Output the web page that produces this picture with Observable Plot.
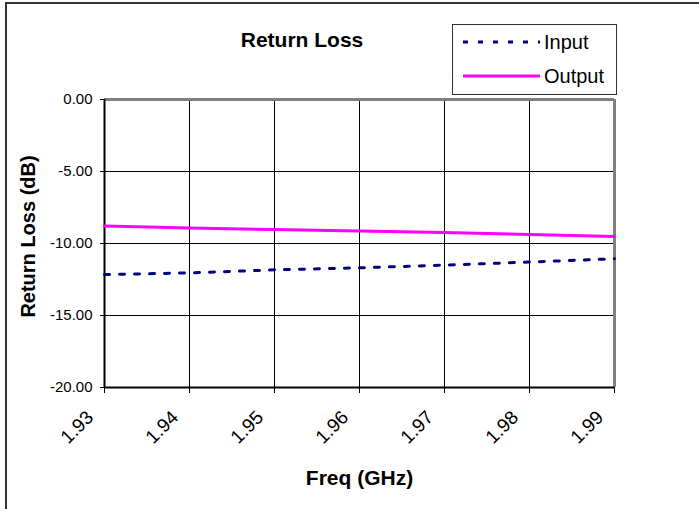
<!DOCTYPE html>
<html>
<head>
<meta charset="utf-8">
<script src="https://cdn.jsdelivr.net/npm/d3@7"></script>
<script src="https://cdn.jsdelivr.net/npm/@observablehq/plot@0.6"></script>
<style>
  html, body { margin: 0; padding: 0; background: #fff; }
  #wrap { position: relative; width: 699px; height: 509px; overflow: hidden; font-family: "Liberation Sans", Arial, sans-serif; }
  #frame { position: absolute; left: 5px; top: 2px; width: 800px; height: 600px; border-top: 2px solid #333; border-left: 2px solid #333; box-sizing: border-box; }
</style>
</head>
<body>
<div id="wrap">
  <div id="frame"></div>
  <div id="chart"></div>
</div>
<script>
const freq = [1.93, 1.94, 1.95, 1.96, 1.97, 1.98, 1.99];
const inputRL = [-12.16, -12.04, -11.83, -11.69, -11.50, -11.29, -11.06];
const outputRL = [-8.79, -8.93, -9.03, -9.13, -9.23, -9.37, -9.51];
const xTicks = [1.93, 1.94, 1.95, 1.96, 1.97, 1.98, 1.99];
const yTicks = [0, -5, -10, -15, -20];
const seriesNames = ["Input", "Output"];
const seriesColors = ["#000080", "#FF00FF"];
const titleText = "Return Loss";
const xTitle = "Freq (GHz)";
const yTitle = "Return Loss (dB)";

const inputData = freq.map((f, i) => ({f, v: inputRL[i]}));
const outputData = freq.map((f, i) => ({f, v: outputRL[i]}));
const FONT = "'Liberation Sans', Arial, sans-serif";

const plot = Plot.plot({
  width: 699,
  height: 509,
  marginLeft: 104,
  marginRight: 85,
  marginTop: 99,
  marginBottom: 122,
  style: {fontFamily: FONT, fontSize: "15px", background: "transparent", overflow: "visible"},
  x: {domain: [1.93, 1.99]},
  y: {domain: [-20, 0]},
  marks: [
    Plot.gridX(xTicks, {stroke: "#000", strokeOpacity: 1, strokeWidth: 1}),
    Plot.gridY(yTicks, {stroke: "#000", strokeOpacity: 1, strokeWidth: 1}),
    Plot.ruleY([yTicks[0]], {stroke: "#808080", strokeWidth: 3}),
    Plot.ruleX([xTicks[xTicks.length - 1]], {stroke: "#808080", strokeWidth: 3}),
    Plot.ruleY([yTicks[yTicks.length - 1]], {stroke: "#000", strokeWidth: 2}),
    Plot.ruleX([xTicks[0]], {stroke: "#000", strokeWidth: 2}),
    Plot.line(outputData, {x: "f", y: "v", stroke: seriesColors[1], strokeWidth: 3}),
    Plot.line(inputData, {x: "f", y: "v", stroke: seriesColors[0], strokeWidth: 3, strokeDasharray: "5,10"}),
    Plot.axisX(xTicks, {tickFormat: () => "", tickSize: 6, label: null, stroke: "#000"}),
    Plot.text(xTicks, {x: d => d, text: d => d.toFixed(2), frameAnchor: "bottom", dy: 31, dx: -10, rotate: -45, textAnchor: "end", fontSize: 19, fill: "#000"}),
    Plot.axisY(yTicks, {tickFormat: d => d.toFixed(2), tickSize: 4, tickPadding: 8, fontSize: 15, label: null, color: "#000"}),
    Plot.text([xTitle], {frameAnchor: "bottom", dy: 97, fontWeight: "bold", fontSize: 21, fill: "#000"}),
    Plot.text([yTitle], {frameAnchor: "left", textAnchor: "middle", dx: -76, dy: -7, rotate: -90, fontWeight: "bold", fontSize: 20, fill: "#000"})
  ]
});
document.getElementById("chart").appendChild(plot);

// title + legend overlay
const ns = "http://www.w3.org/2000/svg";
const lg = document.createElementNS(ns, "svg");
lg.setAttribute("width", 699);
lg.setAttribute("height", 120);
lg.style.position = "absolute";
lg.style.left = "0px";
lg.style.top = "0px";
const title = document.createElementNS(ns, "text");
title.setAttribute("x", 302); title.setAttribute("y", 47);
title.setAttribute("text-anchor", "middle");
title.setAttribute("font-family", FONT);
title.setAttribute("font-weight", "bold");
title.setAttribute("font-size", 21);
title.textContent = titleText;
lg.appendChild(title);
const box = document.createElementNS(ns, "rect");
box.setAttribute("x", 452.5); box.setAttribute("y", 24.5);
box.setAttribute("width", 164); box.setAttribute("height", 70);
box.setAttribute("fill", "#fff"); box.setAttribute("stroke", "#333"); box.setAttribute("stroke-width", 1);
lg.appendChild(box);
const rows = [{y: 42, base: 49, dash: "5,10"}, {y: 76, base: 83, dash: null}];
seriesNames.forEach((name, i) => {
  const ln = document.createElementNS(ns, "line");
  ln.setAttribute("x1", 463); ln.setAttribute("x2", 540);
  ln.setAttribute("y1", rows[i].y); ln.setAttribute("y2", rows[i].y);
  ln.setAttribute("stroke", seriesColors[i]); ln.setAttribute("stroke-width", 3);
  if (rows[i].dash) ln.setAttribute("stroke-dasharray", rows[i].dash);
  lg.appendChild(ln);
  const t = document.createElementNS(ns, "text");
  t.setAttribute("x", 544); t.setAttribute("y", rows[i].base);
  t.setAttribute("font-family", FONT);
  t.setAttribute("font-size", 20);
  t.textContent = name;
  lg.appendChild(t);
});
document.getElementById("wrap").appendChild(lg);
</script>
</body>
</html>
